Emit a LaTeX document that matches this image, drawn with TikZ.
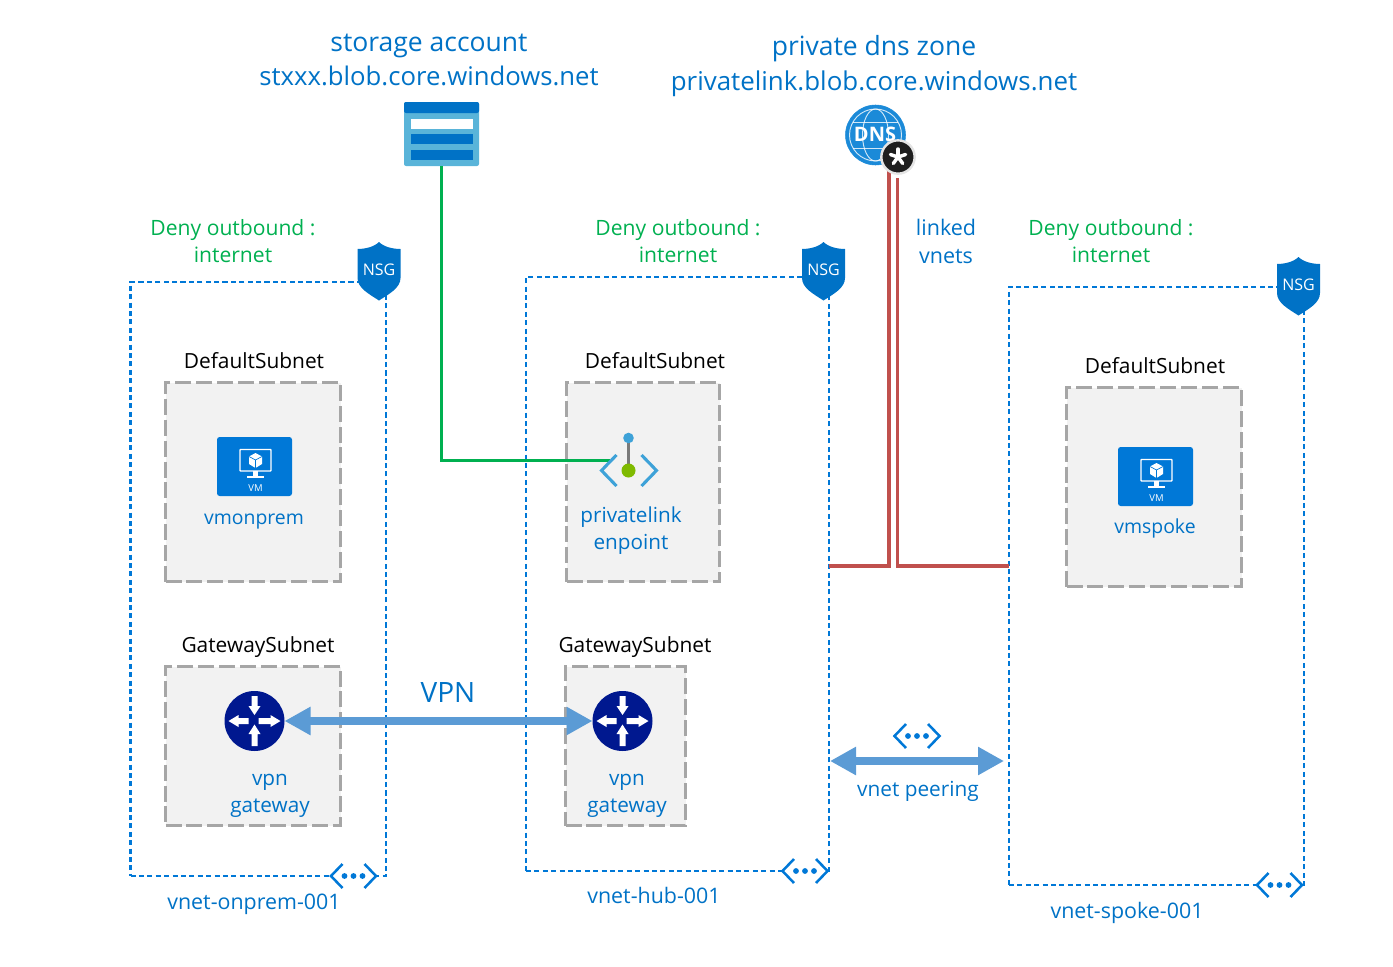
\documentclass[tikz,border=0pt]{standalone}
\usepackage{fontspec}
\setmainfont{Open Sans}
\usetikzlibrary{arrows.meta,calc}
\definecolor{azblue}{HTML}{0078D7}
\definecolor{txtblue}{HTML}{0072C6}
\definecolor{denygreen}{HTML}{00B050}
\definecolor{subgray}{HTML}{A6A6A6}
\definecolor{subfill}{HTML}{F2F2F2}
\definecolor{arrowblue}{HTML}{5B9BD5}
\definecolor{linkred}{HTML}{C0504D}
\definecolor{routerblue}{HTML}{00188F}
\definecolor{stlight}{HTML}{59B4D9}
\definecolor{pegreen}{HTML}{7FBA00}
\definecolor{pegray}{HTML}{7A7A7A}
\newcommand\sized[1]{\pgfmathsetmacro\fs{#1*0.75}\pgfmathsetmacro\fb{#1*0.75*1.3}\fontsize{\fs}{\fb}\selectfont}
\newcommand\pxbox[6]{%
  \pgfmathsetmacro\bw{((#5)-(#3))*0.75}\pgfmathsetmacro\bh{((#6)-(#4))*0.75}%
  \node[#2,minimum width=\bw pt,minimum height=\bh pt,inner sep=0pt,outer sep=0pt]
    (#1) at ({((#3)+(#5))/2},{((#4)+(#6))/2}) {};}
\newcommand\txt[6][]{\node[text=#2,inner sep=0pt,align=center,font=\sized{#3},#1] (#4) at (#5) {#6};}
\newcommand\vmicon[3]{% name, x, y of top-left
  \pxbox{#1}{rounded corners=2pt,fill=azblue}{#2}{#3}{#2+75}{#3+59}
  \begin{scope}[shift={(#2,#3)}]
    \draw[white,line width=1.1pt,rounded corners=.5pt] (23,12.5) rectangle (54,34);
    \fill[white] (36,34) rectangle (41,39.5);
    \fill[white] (30,39) rectangle (47,41);
    \fill[white] (38.5,16) -- (45,19.5) -- (45,27) -- (38.5,31) -- (32,27) -- (32,19.5) -- cycle;
    \draw[azblue,line width=.5pt] (32,19.5) -- (38.5,23) -- (45,19.5) (38.5,23) -- (38.5,31);
    \node[white,inner sep=0pt,font=\sized{9.5}] at (38.5,51.5) {VM};
  \end{scope}}
\newcommand\nsgicon[3]{% name, center x, top y
  \begin{scope}[shift={(#2,#3)}]
    \fill[txtblue] (0,0) .. controls (-5,5) and (-14,7) .. (-21.5,7) -- (-21.5,36)
      .. controls (-21.5,46) and (-10,52) .. (0,58.5)
      .. controls (10,52) and (21.5,46) .. (21.5,36) -- (21.5,7)
      .. controls (14,7) and (5,5) .. (0,0) -- cycle;
    \node[white,inner sep=0pt,font=\sized{16}] (#1) at (0,28) {NSG};
  \end{scope}}
\newcommand\peericon[3]{% name, center x, y
  \coordinate (#1) at (#2,#3);
  \begin{scope}[shift={(#2,#3)}]
    \fill[white] (-11.5,-12) -- (-22.5,0) -- (-11.5,12) -- (11.5,12) -- (22.5,0) -- (11.5,-12) -- cycle;
    \draw[azblue,line width=1.9pt,line join=miter] (-11,-12) -- (-22.5,0) -- (-11,12);
    \draw[azblue,line width=1.9pt,line join=miter] (11,-12) -- (22.5,0) -- (11,12);
    \foreach \dx in {-9,0,9} \fill[azblue] (\dx,0) circle (2.9);
  \end{scope}}
\newcommand\routericon[3]{% name, center x, y
  \pxbox{#1}{circle,fill=routerblue}{#2-30}{#3-30}{#2+30}{#3+30}
  \begin{scope}[shift={(#2,#3)}]
    \fill[white] (-6,-3) -- (-16,-3) -- (-16,-6) -- (-26,0) -- (-16,6) -- (-16,3) -- (-6,3) -- cycle;
    \fill[white] (4,-3) -- (16,-3) -- (16,-6) -- (26,0) -- (16,6) -- (16,3) -- (4,3) -- cycle;
    \fill[white] (-3,-25) -- (-3,-15) -- (-6,-15) -- (0,-6) -- (6,-15) -- (3,-15) -- (3,-25) -- cycle;
    \fill[white] (-3,25) -- (-3,13) -- (-6,13) -- (0,3.5) -- (6,13) -- (3,13) -- (3,25) -- cycle;
  \end{scope}}
\tikzset{
  x=0.75pt,y=-0.75pt,
  vnet/.style={draw=azblue,line width=2.2pt,dash pattern=on 3.8pt off 2.5pt},
  subnet/.style={draw=subgray,fill=subfill,line width=2.9pt,dash pattern=on 12pt off 3.7pt},
  link/.style={line width=2.6pt},
  thickarrow/.style={draw=arrowblue,line width=6.3pt,{Triangle[length=19.5pt,width=20pt]}-{Triangle[length=19.5pt,width=20pt]}},
}
\begin{document}
\begin{tikzpicture}
\useasboundingbox (0,0) rectangle (1393,967);
% vnets
\pxbox{onprem}{vnet}{130.5}{282}{386}{876}
\pxbox{hub}{vnet}{526}{277}{829}{871}
\pxbox{spoke}{vnet}{1009}{287}{1304}{885}
% subnets
\pxbox{subA}{subnet}{165.5}{382.5}{340.5}{581.5}
\pxbox{subB}{subnet}{566.5}{382.5}{719.5}{581.5}
\pxbox{subC}{subnet}{1066.5}{387.5}{1241.5}{586.5}
\pxbox{gwA}{subnet}{165.5}{666.5}{340.5}{825.5}
\pxbox{gwB}{subnet}{565.5}{666.5}{685.5}{825.5}
% storage
\pxbox{storage}{rounded corners=1.5pt,fill=stlight}{404}{102}{479}{166}
\fill[txtblue,rounded corners=1.5pt] (404,102) rectangle (479,113);
\fill[white] (410.5,118.5) rectangle (472.5,128.5);
\fill[txtblue] (410.5,133.5) rectangle (472.5,143.5);
\fill[txtblue] (410.5,149.5) rectangle (472.5,159.5);
% connector anchors
\coordinate (peport) at (610,460.5);
\coordinate (dnsL) at (889,170);
\coordinate (dnsR) at (897.5,178);
% connectors
\draw[link,denygreen] (storage.south) |- (peport);
\draw[link,linkred] (dnsL) |- (hub.east |- 0,566);
\draw[link,linkred] (dnsR) |- (spoke.west |- 0,566);
% private endpoint
\draw[pegray,line width=2.4pt] (628.5,438) -- (628.5,470);
\fill[stlight!70!azblue] (628.5,438) circle (5.3);
\node[circle,fill=pegreen,minimum size=10.5pt,inner sep=0pt] (pe) at (628.5,470.5) {};
\draw[stlight!70!azblue,line width=2.3pt] (616.5,455) -- (601.5,470.5) -- (616.5,486);
\draw[stlight!70!azblue,line width=2.3pt] (641.5,455) -- (656.5,470.5) -- (641.5,486);
% dns
\node[circle,fill=azblue!70!stlight,draw=azblue!70!stlight,minimum size=45pt,inner sep=0pt] (dns) at (875.5,135) {};
\draw[white,line width=.7pt,opacity=.8] (875.5,135) circle (26);
\draw[white,line width=.7pt,opacity=.8] (875.5,135) ellipse (13 and 26);
\draw[white,line width=.7pt,opacity=.8] (853,122) -- (898,122) (853,148) -- (898,148);
\node[white,inner sep=0pt,font=\sized{20}] at (875,134) {\textbf{DNS}};
\node[circle,fill=black!88,draw=black!10,line width=1.8pt,minimum size=25pt,inner sep=0pt] (badge) at (898,157) {};
\foreach \a in {-90,-18,54,126,198}
  \draw[white,line width=2.6pt,line cap=round] (898,157) -- ++(\a:8);
% VM and routers
\vmicon{vmA}{217}{437}
\vmicon{vmC}{1118}{447}
\routericon{rtA}{254.5}{721}
\routericon{rtB}{622.5}{721}
% arrows
\draw[thickarrow] (rtA.east) -- (rtB.west);
\coordinate (peerL) at (830,761);
\coordinate (peerR) at (1004,761);
\draw[thickarrow] (peerL) -- (peerR);
% nsg
\nsgicon{nsgA}{379}{242}
\nsgicon{nsgB}{823.5}{242}
\nsgicon{nsgC}{1298.5}{257}
% peering icons
\peericon{peerA}{353.5}{876}
\peericon{peerB}{805}{871}
\peericon{peerC}{1279.5}{885}
\peericon{peerD}{917}{736}
% texts
\txt{txtblue}{26.5}{tStorage}{429,60}{storage account\\\sized{25.7}stxxx.blob.core.windows.net}
\txt{txtblue}{26.5}{tDns}{874,66}{private dns zone\\\sized{25.9}privatelink.blob.core.windows.net}
\txt{denygreen}{21.1}{dA}{233,241}{Deny outbound :\\internet}
\txt{denygreen}{21.1}{dB}{678,241}{Deny outbound :\\internet}
\txt{denygreen}{21.1}{dC}{1111,241}{Deny outbound :\\internet}
\txt{txtblue}{21.5}{tLinked}{946,241}{linked\\vnets}
\txt{black}{20.9}{sA}{254,361}{DefaultSubnet}
\txt{black}{20.9}{sB}{655,361}{DefaultSubnet}
\txt{black}{20.9}{sC}{1155,366}{DefaultSubnet}
\txt{black}{20.9}{gA}{258,647}{GatewaySubnet}
\txt{black}{20.9}{gB}{635,647}{GatewaySubnet}
\txt{txtblue}{19.4}{nA}{254,521.5}{vmonprem}
\txt{txtblue}{19.4}{nC}{1155,528.5}{vmspoke}
\txt{txtblue}{20.7}{nPe}{631,531}{privatelink\\enpoint}
\txt{txtblue}{20.7}{nGa}{270,795.5}{vpn\\gateway}
\txt{txtblue}{20.7}{nGb}{627,795.5}{vpn\\gateway}
\txt{txtblue}{28}{tVpn}{448,692}{VPN}
\txt{txtblue}{20.8}{tPeer}{918,791}{vnet peering}
\txt{txtblue}{21.4}{vA}{254,904}{vnet-onprem-001}
\txt{txtblue}{21.4}{vB}{654,895}{vnet-hub-001}
\txt{txtblue}{21.4}{vC}{1127,913}{vnet-spoke-001}
\end{tikzpicture}
\end{document}
